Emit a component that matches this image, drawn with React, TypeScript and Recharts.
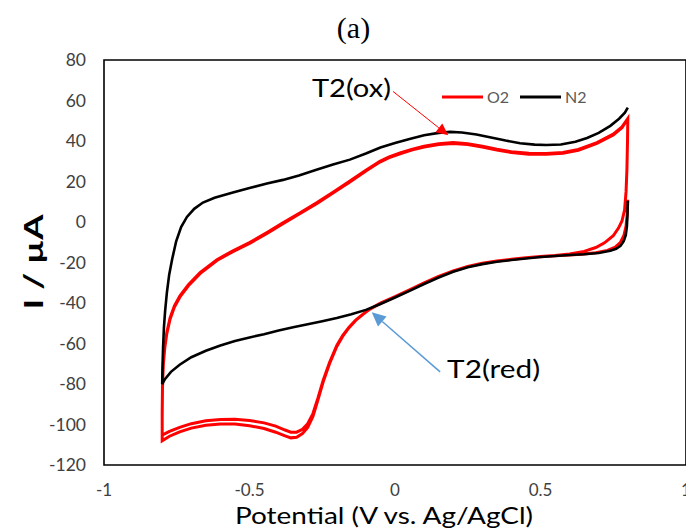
import React from "react";
import { LineChart, Line, XAxis, YAxis, ReferenceArea, ReferenceLine, Legend } from "recharts";

// potential (V vs. Ag/AgCl), current (µA)
const n2Scan: [number, number][] = [
  [0.8, 10.5], [0.799, 4], [0.797, -2], [0.793, -6.5], [0.786, -9.5], [0.775, -11.8], [0.76, -13.2],
  [0.74, -14.2], [0.7, -15.3], [0.65, -15.9], [0.6, -16.3], [0.55, -16.8], [0.5, -17.3], [0.45, -18],
  [0.4, -18.8], [0.35, -19.6], [0.3, -20.8], [0.25, -22.3], [0.2, -24.6], [0.15, -27.4], [0.1, -30.6],
  [0.05, -34], [0, -37.3], [-0.05, -40.5], [-0.1, -43.4], [-0.15, -45.6], [-0.2, -47.4], [-0.25, -49],
  [-0.3, -50.5], [-0.35, -52], [-0.4, -53.6], [-0.45, -55.4], [-0.5, -57], [-0.55, -58.8], [-0.6, -61],
  [-0.65, -63.6], [-0.7, -66.8], [-0.74, -70.5], [-0.77, -74], [-0.79, -77.5], [-0.8, -80],
  [-0.799, -72], [-0.797, -62], [-0.794, -52], [-0.79, -44], [-0.784, -35], [-0.776, -26], [-0.766, -18.5],
  [-0.752, -9.5], [-0.735, -2.5], [-0.715, 2.5], [-0.69, 6.5], [-0.66, 9.6], [-0.62, 12], [-0.557, 14.6],
  [-0.5, 16.8], [-0.44, 19], [-0.385, 20.8], [-0.33, 23], [-0.27, 25.8], [-0.213, 28.4], [-0.155, 30.8],
  [-0.1, 33.8], [-0.05, 36.8], [0, 39], [0.05, 41], [0.1, 42.8], [0.15, 44], [0.19, 44.5], [0.23, 44.2],
  [0.28, 43.2], [0.33, 41.7], [0.38, 40.2], [0.43, 38.9], [0.48, 38.2], [0.52, 38], [0.57, 38.3],
  [0.62, 39.6], [0.66, 41.5], [0.7, 44], [0.74, 47.5], [0.77, 51], [0.79, 54], [0.8, 56.5],
];

const o2Scan1: [number, number][] = [
  [0.8, 11], [0.798, 4], [0.794, -2], [0.787, -6.5], [0.775, -10], [0.755, -12.6], [0.73, -14],
  [0.69, -15.2], [0.64, -15.9], [0.6, -16.3], [0.55, -16.7], [0.5, -17.1], [0.45, -17.7], [0.4, -18.5],
  [0.35, -19.3], [0.3, -20.5], [0.25, -22], [0.2, -24.2], [0.15, -27], [0.1, -30.2], [0.05, -33.6],
  [0, -37], [-0.05, -40.2], [-0.086, -43], [-0.11, -45.6], [-0.135, -48.6], [-0.158, -52.2],
  [-0.18, -56.5], [-0.2, -61.5], [-0.225, -70], [-0.247, -79], [-0.265, -88], [-0.282, -96],
  [-0.3, -101.5], [-0.318, -104.5], [-0.338, -106.3], [-0.358, -106.6], [-0.38, -105.5], [-0.41, -103.8],
  [-0.45, -102], [-0.5, -100.6], [-0.55, -99.8], [-0.6, -99.8], [-0.65, -100.4], [-0.7, -101.8],
  [-0.74, -103.6], [-0.775, -105.8], [-0.8, -108], [-0.8, -96], [-0.799, -82], [-0.796, -70],
  [-0.791, -62], [-0.784, -55], [-0.773, -48], [-0.758, -42], [-0.739, -37], [-0.71, -31.5],
  [-0.67, -25.5], [-0.612, -19], [-0.557, -14.6], [-0.5, -10.6], [-0.44, -5.6], [-0.385, -0.8],
  [-0.326, 4.2], [-0.268, 9.2], [-0.213, 14.3], [-0.155, 19.8], [-0.1, 25.2], [-0.052, 29.6],
  [-0.02, 31.8], [0.02, 33.8], [0.06, 35.6], [0.1, 37], [0.15, 38.3], [0.2, 38.8], [0.25, 38.3],
  [0.3, 37], [0.35, 35.5], [0.4, 34.3], [0.46, 33.5], [0.52, 33.4], [0.577, 33.9], [0.63, 35.4],
  [0.694, 38.8], [0.75, 43], [0.78, 46.6], [0.8, 51],
];

const o2Scan2: [number, number][] = [
  [0.799, 40], [0.797, 26], [0.794, 15], [0.789, 6], [0.78, 0.5], [0.768, -3], [0.75, -6.8],
  [0.72, -10.3], [0.69, -12.6], [0.65, -14.5], [0.6, -15.8], [0.55, -16.5], [0.5, -17], [0.45, -17.6],
  [0.4, -18.4], [0.35, -19.2], [0.3, -20.4], [0.25, -21.9], [0.2, -24.1], [0.15, -26.9], [0.1, -30.1],
  [0.05, -33.5], [0, -36.9], [-0.05, -40.1], [-0.086, -43], [-0.11, -45.5], [-0.135, -48.4],
  [-0.158, -52], [-0.18, -56.1], [-0.2, -61], [-0.225, -69.4], [-0.247, -78.2], [-0.265, -87],
  [-0.282, -94.6], [-0.3, -99.6], [-0.318, -102.4], [-0.338, -103.8], [-0.358, -103.8], [-0.38, -102.6],
  [-0.41, -100.8], [-0.45, -99.2], [-0.5, -98], [-0.55, -97.4], [-0.6, -97.5], [-0.65, -98.2],
  [-0.7, -99.6], [-0.74, -101.4], [-0.775, -103.4], [-0.8, -105.2], [-0.8, -94], [-0.799, -81],
  [-0.796, -69.5], [-0.791, -61.5], [-0.784, -54.4], [-0.773, -47.4], [-0.758, -41.4], [-0.739, -36.4],
  [-0.71, -31], [-0.67, -25], [-0.612, -18.6], [-0.557, -14.2], [-0.5, -10.2], [-0.44, -5.2],
  [-0.385, -0.4], [-0.326, 4.6], [-0.268, 9.6], [-0.213, 14.7], [-0.155, 20.2], [-0.1, 25.6],
  [-0.052, 30], [-0.02, 32.2], [0.02, 34.2], [0.06, 36], [0.1, 37.4], [0.15, 38.7], [0.2, 39.2],
  [0.25, 38.7], [0.3, 37.4], [0.35, 35.9], [0.4, 34.7], [0.46, 33.9], [0.52, 33.8], [0.577, 34.3],
  [0.63, 35.8], [0.694, 39.2], [0.75, 43.4], [0.78, 47], [0.8, 51],
];

const xTicks = [-1, -0.5, 0, 0.5, 1];
const yTicks = [-120, -100, -80, -60, -40, -20, 0, 20, 40, 60, 80];
const legendOrder = ["O2", "N2"];

// annotation arrows: [start, tip] in data units
const oxArrow = [{ x: -0.007, y: 64.5 }, { x: 0.183, y: 42.8 }];
const redArrow = [{ x: 0.155, y: -74 }, { x: -0.08, y: -44.6 }];

const toPoints = (scan: [number, number][]) => scan.map(([x, y]) => ({ x, y }));
const n2Data = toPoints(n2Scan);
const o2Data = toPoints([...o2Scan1, ...o2Scan2]);

const FONT = "Lato, 'Open Sans', sans-serif";

function arrowShape(color: string, width: number, head: number, half: number, text: string, dx: number, anchor: "start" | "end", len: number) {
  return (p: any) => {
    const { x1, y1, x2, y2 } = p;
    const ddx = x2 - x1;
    const ddy = y2 - y1;
    const d = Math.hypot(ddx, ddy) || 1;
    const ux = ddx / d;
    const uy = ddy / d;
    const bx = x2 - ux * head;
    const by = y2 - uy * head;
    const pts = `${x2},${y2} ${bx - uy * half},${by + ux * half} ${bx + uy * half},${by - ux * half}`;
    return (
      <g>
        <line x1={x1} y1={y1} x2={bx} y2={by} stroke={color} strokeWidth={width} />
        <polygon points={pts} fill={color} />
        <text x={x1 + dx} y={y1 + 6} textAnchor={anchor} fontFamily={FONT} fontSize={25} fill="#000"
          textLength={len} lengthAdjust="spacingAndGlyphs">{text}</text>
      </g>
    );
  };
}

const renderLegend = (props: any) => {
  const items = legendOrder
    .map((name) => (props.payload || []).find((it: any) => it.value === name))
    .filter(Boolean);
  return (
    <svg width={170} height={20}>
      {items.map((it: any, i: number) => (
        <g key={it.value} transform={`translate(${i * 78},0)`}>
          <line x1={2} y1={10} x2={43} y2={10} stroke={it.color} strokeWidth={3} />
          <text x={47} y={16} fontFamily={FONT} fontSize={16} fill="#595959">{it.value}</text>
        </g>
      ))}
    </svg>
  );
};

export default function App() {
  return (
    <div style={{ position: "relative", width: 686, height: 523 }}>
      <LineChart width={686} height={523} margin={{ top: 52, right: 8, bottom: 36, left: 0 }}>
        <XAxis dataKey="x" type="number" domain={[-1, 1]} ticks={xTicks} height={30}
          tickLine={false} axisLine={false} tickMargin={13}
          tick={{ fontFamily: FONT, fontSize: 17, fill: "#404040" }} />
        <YAxis type="number" domain={[-120, 80]} ticks={yTicks} width={96}
          tickLine={false} axisLine={false} tickMargin={12}
          tick={{ fontFamily: FONT, fontSize: 17.5, fill: "#404040" }} />
        <ReferenceArea x1={-1} x2={1} y1={-120} y2={80} fill="none" stroke="#000" strokeWidth={1.6} fillOpacity={0} />
        <Line data={o2Data} dataKey="y" name="O2" type="linear" stroke="#ff0000" strokeWidth={3}
          dot={false} activeDot={false} isAnimationActive={false} />
        <Line data={n2Data} dataKey="y" name="N2" type="linear" stroke="#000000" strokeWidth={2.6}
          dot={false} activeDot={false} isAnimationActive={false} />
        <ReferenceLine segment={oxArrow} stroke="#ff0000"
          shape={arrowShape("#ff0000", 1, 12, 5.5, "T2(ox)", -2, "end", 79)} />
        <ReferenceLine segment={redArrow} stroke="#5b9bd5"
          shape={arrowShape("#5b9bd5", 1.5, 14, 6.5, "T2(red)", 7, "start", 93)} />
        <Legend verticalAlign="middle" layout="horizontal" content={renderLegend}
          wrapperStyle={{ top: 79, left: 432, width: 170, height: 20 }} />
      </LineChart>
      <svg width={686} height={523} style={{ position: "absolute", left: 0, top: 0, pointerEvents: "none" }}>
        <text x={345.5} y={30} textAnchor="middle" fontFamily="Liberation Serif, Times New Roman, serif" fontSize={30}
          fontWeight={400} fill="#000">(a)</text>
        <text x={0} y={0} transform="translate(24,254) rotate(-90)" textAnchor="middle" dominantBaseline="central"
          fontFamily={FONT} fontSize={27} fontWeight={700} fill="#000" textLength={95} lengthAdjust="spacingAndGlyphs">I / µA</text>
        <text x={376} y={516} textAnchor="middle" fontFamily={FONT} fontSize={24} fill="#000"
          textLength={298} lengthAdjust="spacingAndGlyphs">Potential (V vs. Ag/AgCl)</text>
      </svg>
    </div>
  );
}
